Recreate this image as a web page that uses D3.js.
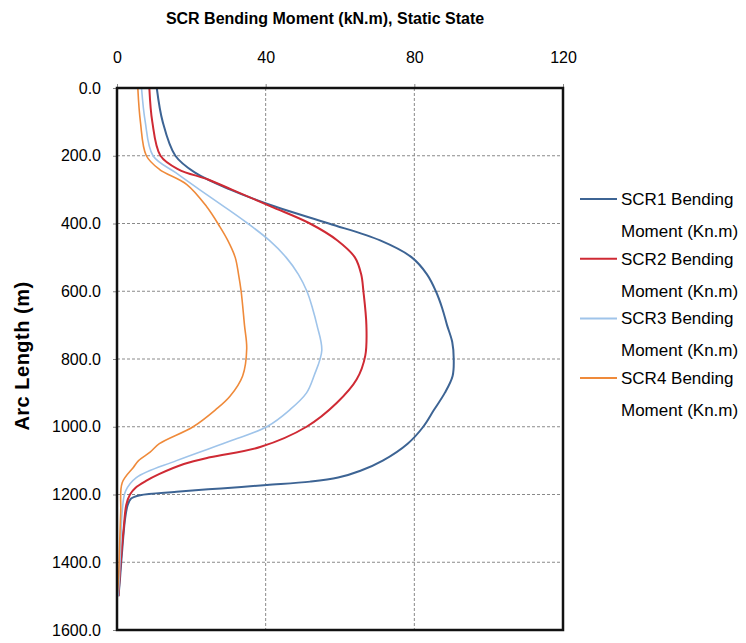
<!DOCTYPE html>
<html>
<head>
<meta charset="utf-8">
<script src="https://cdn.jsdelivr.net/npm/d3@7"></script>
<style>
  body { margin: 0; background: #fff; }
  text { font-family: "Liberation Sans", Arial, sans-serif; fill: #000; }
</style>
</head>
<body>
<div id="chart"></div>
<script>
// values
var xTicks = [0, 40, 80, 120];
var yTicks = [0, 200, 400, 600, 800, 1000, 1200, 1400, 1600];

var scr1Arc = [0, 100, 200, 250, 300, 350, 400, 450, 500, 550, 600, 650, 700, 750, 800, 850, 900, 950, 1000, 1050, 1100, 1130, 1150, 1162, 1172, 1182, 1192, 1202, 1212, 1230, 1270, 1350, 1450, 1500];
var scr1Moment = [10.7, 12.3, 15.7, 21, 30.5, 42.5, 57, 70.8, 79.3, 83.4, 85.8, 87.5, 88.8, 90.2, 90.6, 90.3, 88.2, 85.3, 82.4, 78.2, 71.5, 65.5, 59.5, 52, 40.3, 28, 16, 6.2, 3.8, 2.9, 2.2, 1.5, 0.8, 0.4];

var scr2Arc = [0, 100, 200, 240, 270, 300, 350, 400, 450, 500, 550, 600, 700, 790, 860, 930, 1000, 1060, 1090, 1110, 1140, 1160, 1180, 1200, 1230, 1300, 1400, 1500];
var scr2Moment = [8.7, 9.5, 11.7, 16.5, 24.5, 30.9, 41.5, 51.9, 59.3, 64, 65.7, 66.3, 67.1, 66.8, 64.5, 59.1, 51, 38.5, 25, 18, 11.3, 7.8, 5, 3.5, 2.5, 1.8, 1, 0.4];

var scr3Arc = [0, 100, 200, 250, 300, 350, 400, 450, 500, 550, 600, 650, 700, 775, 850, 900, 950, 1000, 1040, 1100, 1150, 1190, 1250, 1350, 1450, 1500];
var scr3Moment = [6.6, 7.6, 9.7, 15.8, 22.2, 28.8, 35.2, 41, 45.5, 48.8, 51.1, 52.6, 53.8, 55.1, 53, 51, 46.5, 40.3, 31, 16, 5.2, 2.3, 1.4, 1, 0.6, 0.3];

var scr4Arc = [0, 100, 200, 240, 285, 350, 410, 450, 500, 550, 600, 700, 770, 850, 910, 950, 1000, 1050, 1075, 1100, 1120, 1165, 1250, 1350, 1450, 1500];
var scr4Moment = [5.6, 6.3, 7.9, 11.4, 18.8, 24.1, 27.7, 29.8, 31.8, 32.7, 33.4, 34.3, 34.9, 33.8, 30.4, 26.5, 20.5, 11.4, 8.9, 5.8, 4.4, 1.4, 1, 0.7, 0.4, 0];

var seriesNames = ["SCR1 Bending Moment (Kn.m)", "SCR2 Bending Moment (Kn.m)", "SCR3 Bending Moment (Kn.m)", "SCR4 Bending Moment (Kn.m)"];
var seriesColors = ["#3d6494", "#cf2a34", "#9fc4ea", "#ef8a3a"];
var seriesWidths = [2, 2, 1.6, 1.6];

var series = [
  {arc: scr1Arc, moment: scr1Moment},
  {arc: scr2Arc, moment: scr2Moment},
  {arc: scr3Arc, moment: scr3Moment},
  {arc: scr4Arc, moment: scr4Moment}
];

var W = 746, H = 643;
var margin = {top: 88, right: 183, bottom: 13, left: 117};
var width = W - margin.left - margin.right,
    height = H - margin.top - margin.bottom;

var x = d3.scaleLinear().domain([0, 120]).range([0, width]);
var y = d3.scaleLinear().domain([0, 1600]).range([0, height]);

var svg = d3.select("#chart").append("svg")
  .attr("width", W)
  .attr("height", H);

var g = svg.append("g")
  .attr("transform", "translate(" + margin.left + "," + margin.top + ")");

// grid lines
g.selectAll(".vgrid").data(xTicks.slice(1, -1)).enter().append("line")
  .attr("x1", d => x(d)).attr("x2", d => x(d))
  .attr("y1", 0).attr("y2", height)
  .attr("stroke", "#8a8a8a").attr("stroke-width", 1).attr("stroke-dasharray", "3,2");

g.selectAll(".hgrid").data(yTicks.slice(1, -1)).enter().append("line")
  .attr("x1", 0).attr("x2", width)
  .attr("y1", d => y(d)).attr("y2", d => y(d))
  .attr("stroke", "#8a8a8a").attr("stroke-width", 1).attr("stroke-dasharray", "3,2");

// axes (ticks + labels)
var topAxis = g.append("g")
  .call(d3.axisTop(x).tickValues(xTicks).tickSize(4).tickPadding(21).tickFormat(d3.format("d")));
topAxis.select(".domain").remove();
topAxis.selectAll("line").attr("stroke", "#888");
topAxis.selectAll("text").style("font-size", "16px").attr("fill", "#000");

var leftAxis = g.append("g")
  .call(d3.axisLeft(y).tickValues(yTicks).tickSize(4).tickPadding(12).tickFormat(d3.format(".1f")));
leftAxis.select(".domain").remove();
leftAxis.selectAll("line").attr("stroke", "#888");
leftAxis.selectAll("text").style("font-size", "16px").attr("fill", "#000");

// series lines
var line = d3.line()
  .x(d => x(d[0]))
  .y(d => y(d[1]))
  .curve(d3.curveCatmullRom.alpha(0.5));

series.forEach(function(s, i) {
  var pts = s.moment.map((m, j) => [m, s.arc[j]]);
  g.append("path")
    .datum(pts)
    .attr("fill", "none")
    .attr("stroke", seriesColors[i])
    .attr("stroke-width", seriesWidths[i])
    .attr("d", line);
});

// plot border
g.append("rect")
  .attr("x", 0).attr("y", 0)
  .attr("width", width).attr("height", height)
  .attr("fill", "none")
  .attr("stroke", "#111")
  .attr("stroke-width", 2.5);

// titles
svg.append("text")
  .attr("x", 325).attr("y", 24)
  .attr("text-anchor", "middle")
  .style("font-size", "16px").style("font-weight", "bold")
  .text("SCR Bending Moment (kN.m), Static State");

svg.append("text")
  .attr("transform", "translate(29,356) rotate(-90)")
  .attr("text-anchor", "middle")
  .style("font-size", "20px").style("font-weight", "bold")
  .style("letter-spacing", "0.5px")
  .text("Arc Length (m)");

// legend
var legend = svg.append("g").attr("transform", "translate(580,199)");
seriesNames.forEach(function(name, i) {
  var row = legend.append("g").attr("transform", "translate(0," + (i * 59.7) + ")");
  row.append("line")
    .attr("x1", 0).attr("x2", 37).attr("y1", 0).attr("y2", 0)
    .attr("stroke", seriesColors[i]).attr("stroke-width", 2);
  var words = name.split(" ");
  row.append("text").attr("x", 41).attr("y", 6)
    .style("font-size", "17px")
    .text(words.slice(0, 2).join(" "));
  row.append("text").attr("x", 41).attr("y", 38)
    .style("font-size", "17px")
    .text(words.slice(2).join(" "));
});
</script>
</body>
</html>
